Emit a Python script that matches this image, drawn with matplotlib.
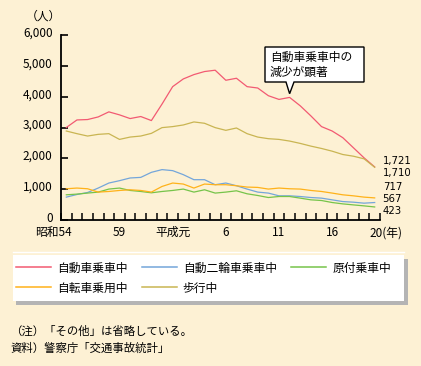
import matplotlib
matplotlib.use("Agg")
import matplotlib.pyplot as plt
from matplotlib.patches import Rectangle, Polygon
from matplotlib.lines import Line2D
from matplotlib.transforms import ScaledTranslation
import numpy as np

plt.rcParams['font.family'] = ['Noto Sans CJK JP', 'DejaVu Sans']

# ---------------- data ----------------
years = list(range(1979, 2009))

car = [3000, 3245, 3258, 3343, 3507, 3410, 3290, 3356, 3225, 3760,
       4325, 4575, 4716, 4815, 4858, 4532, 4597, 4325, 4281, 4031,
       3911, 3976, 3703, 3376, 3029, 2886, 2670, 2343, 2016, 1721]
moto = [742, 827, 892, 1036, 1199, 1275, 1363, 1382, 1546, 1634,
        1601, 1471, 1307, 1307, 1144, 1199, 1111, 1003, 905, 873,
        784, 784, 762, 729, 709, 654, 598, 578, 546, 567]
moped = [817, 840, 873, 905, 1003, 1036, 958, 925, 882, 925,
         958, 1003, 905, 980, 873, 905, 947, 850, 795, 729,
         762, 762, 709, 654, 632, 567, 523, 490, 458, 423]
bike = [1013, 1036, 1013, 905, 925, 958, 980, 958, 905, 1088,
        1199, 1166, 1036, 1166, 1144, 1144, 1111, 1068, 1057, 1003,
        1036, 1013, 1003, 958, 925, 873, 817, 784, 742, 717]
walk = [2886, 2800, 2723, 2778, 2800, 2614, 2690, 2723, 2810, 2996,
        3029, 3082, 3180, 3137, 2996, 2908, 2984, 2800, 2690, 2637,
        2614, 2560, 2484, 2396, 2320, 2232, 2124, 2069, 1984, 1710]

names = ['自動車乗車中', '自動二輪車乗車中', '原付乗車中', '自転車乗用中', '歩行中']
tick_years = [1979, 1984, 1989, 1994, 1999, 2004, 2008]
tick_text = ['昭和54', '59', '平成元', '6', '11', '16', '20(年)']

# ---------------- styles ----------------
bg = '#FDF1D4'
colors = ['#F25A72', '#74A6DA', '#76C44A', '#FFB21A', '#C9B552']
series = [car, moto, moped, bike, walk]

W, H = 421, 366
fig = plt.figure(figsize=(W / 100, H / 100), dpi=100, facecolor=bg)

def px(x0, y0, x1, y1):
    # pixel box (top-left origin) -> figure fraction rect
    return [x0 / W, 1 - y1 / H, (x1 - x0) / W, (y1 - y0) / H]

ax = fig.add_axes(px(61, 35, 380, 220))
ax.set_facecolor(bg)

for vals, c in zip(series, colors):
    ax.plot(years, vals, color=c, lw=0.9, solid_joinstyle='round')

ax.set_xlim(1978.5, 2008.5)
ax.set_ylim(0, 6000)
for s in ['top', 'right']:
    ax.spines[s].set_visible(False)
for s in ['left', 'bottom']:
    ax.spines[s].set_linewidth(1.3)
    ax.spines[s].set_color('black')

ax.set_yticks(range(0, 6001, 1000))
ax.set_yticklabels([f'{v:,}' for v in range(0, 6001, 1000)], fontsize=8.5)
ax.tick_params(axis='y', direction='in', length=5, width=1.2, pad=6)
# labels sit a little above their ticks in the original
for lab in ax.get_yticklabels():
    lab.set_transform(lab.get_transform() + ScaledTranslation(0, 2.5 / 72, fig.dpi_scale_trans))
ax.set_xticks(np.arange(1978.5, 2008.6, 1))
ax.set_xticklabels([])
ax.tick_params(axis='x', direction='in', length=5, width=1.1)

for yr, t in zip(tick_years, tick_text):
    if t.startswith('昭和'):
        ax.text(yr + 0.5, -200, t, ha='right', va='top', fontsize=8.5)
    elif t.endswith('(年)'):
        ax.text(yr - 0.5, -200, t, ha='left', va='top', fontsize=8.5)
    else:
        ax.text(yr, -200, t, ha='center', va='top', fontsize=8.5)

fig.text(26 / W, 1 - 16 / H, '（人）', ha='left', va='center', fontsize=8.5)

# end-value labels
end_vals = [car[-1], walk[-1], bike[-1], moto[-1], moped[-1]]
end_y = [1900, 1520, 1060, 670, 280]
for v, y in zip(end_vals, end_y):
    ax.text(2008.75, y, f'{v:,}', ha='left', va='center', fontsize=7.3,
            family='DejaVu Sans', clip_on=False)

# callout box pointing at the 2000 car value
tip = ax.transData.transform((2000, car[years.index(2000)] + 120))
tx, ty = tip[0], H - tip[1]
poly = [(265, 47), (364, 47), (364, 82), (294, 82), (tx, ty), (286, 82), (265, 82)]
fig.patches.append(Polygon([(x / W, 1 - y / H) for x, y in poly], closed=True,
                           transform=fig.transFigure, facecolor='white',
                           edgecolor='black', lw=1.0, zorder=5))
fig.text(270 / W, 1 - 57 / H, '自動車乗車中の', ha='left', va='center', fontsize=8.5, zorder=6)
fig.text(270 / W, 1 - 72 / H, '減少が顕著', ha='left', va='center', fontsize=8.5, zorder=6)

# legend panel
fig.patches.append(Rectangle((16 / W, 1 - 305 / H), 392 / W, 46 / H,
                             transform=fig.transFigure, facecolor='#B4B4B4', edgecolor='none'))
fig.patches.append(Rectangle((13 / W, 1 - 301 / H), 391 / W, 46 / H,
                             transform=fig.transFigure, facecolor='white', edgecolor='none'))
fig.lines.append(Line2D([13 / W, 404 / W], [1 - 252 / H] * 2, transform=fig.transFigure,
                        color='white', lw=1))

order = [0, 3, 1, 4, 2]
handles = [Line2D([], [], color=colors[i], lw=1.1) for i in order]
fig.legend(handles, [names[i] for i in order], ncol=3, loc='upper left',
           bbox_to_anchor=(12 / W, 1 - 258 / H), frameon=False, fontsize=8.5,
           handlelength=3.0, handletextpad=0.5, columnspacing=1.2,
           labelspacing=0.6, borderpad=0.3, borderaxespad=0)

fig.text(10 / W, 1 - 331 / H, '（注）「その他」は省略している。', ha='left', va='center', fontsize=8.2)
fig.text(10 / W, 1 - 348 / H, '資料）警察庁「交通事故統計」', ha='left', va='center', fontsize=8.2)

fig.savefig('out.png', dpi=100, facecolor=bg)
